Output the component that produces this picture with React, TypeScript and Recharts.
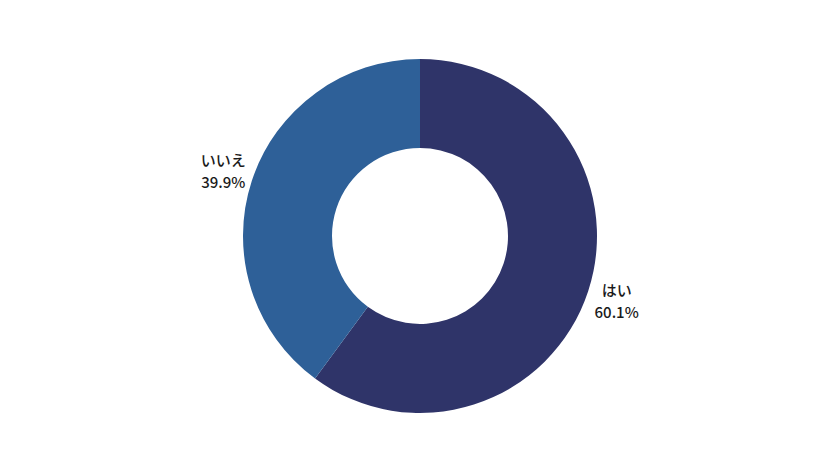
import { Cell, Pie, PieChart } from 'recharts'

const labels = ['はい', 'いいえ']
const shares = [60.1, 39.9]
const colors = ['#2f3469', '#2e6098']

const data = labels.map((name, i) => ({ name, value: shares[i] }))

const RADIAN = Math.PI / 180

function renderLabel(props: any) {
  const { cx, cy, midAngle, outerRadius, index } = props
  const r = outerRadius + 30
  const x = cx + r * Math.cos(-midAngle * RADIAN)
  const y = cy + r * Math.sin(-midAngle * RADIAN)
  return (
    <text
      x={x}
      y={y}
      textAnchor="middle"
      fill="#1a1a1a"
      fontSize={15}
      fontWeight={500}
      fontFamily="'Noto Sans CJK JP', 'Noto Sans', sans-serif"
    >
      <tspan x={x} dy={-5}>
        {labels[index]}
      </tspan>
      <tspan x={x} dy={22}>
        {shares[index].toFixed(1)}%
      </tspan>
    </text>
  )
}

export default function App() {
  return (
    <div style={{ position: 'absolute', left: 0, top: 0, width: 840, height: 473, background: '#fff' }}>
      <PieChart width={840} height={473} margin={{ top: 0, right: 0, bottom: 0, left: 0 }}>
        <Pie
          data={data}
          dataKey="value"
          nameKey="name"
          cx={420}
          cy={236}
          innerRadius={88}
          outerRadius={177}
          startAngle={90}
          endAngle={-270}
          stroke="none"
          label={renderLabel}
          labelLine={false}
          isAnimationActive={false}
        >
          {data.map((d, i) => (
            <Cell key={d.name} fill={colors[i]} />
          ))}
        </Pie>
      </PieChart>
    </div>
  )
}
